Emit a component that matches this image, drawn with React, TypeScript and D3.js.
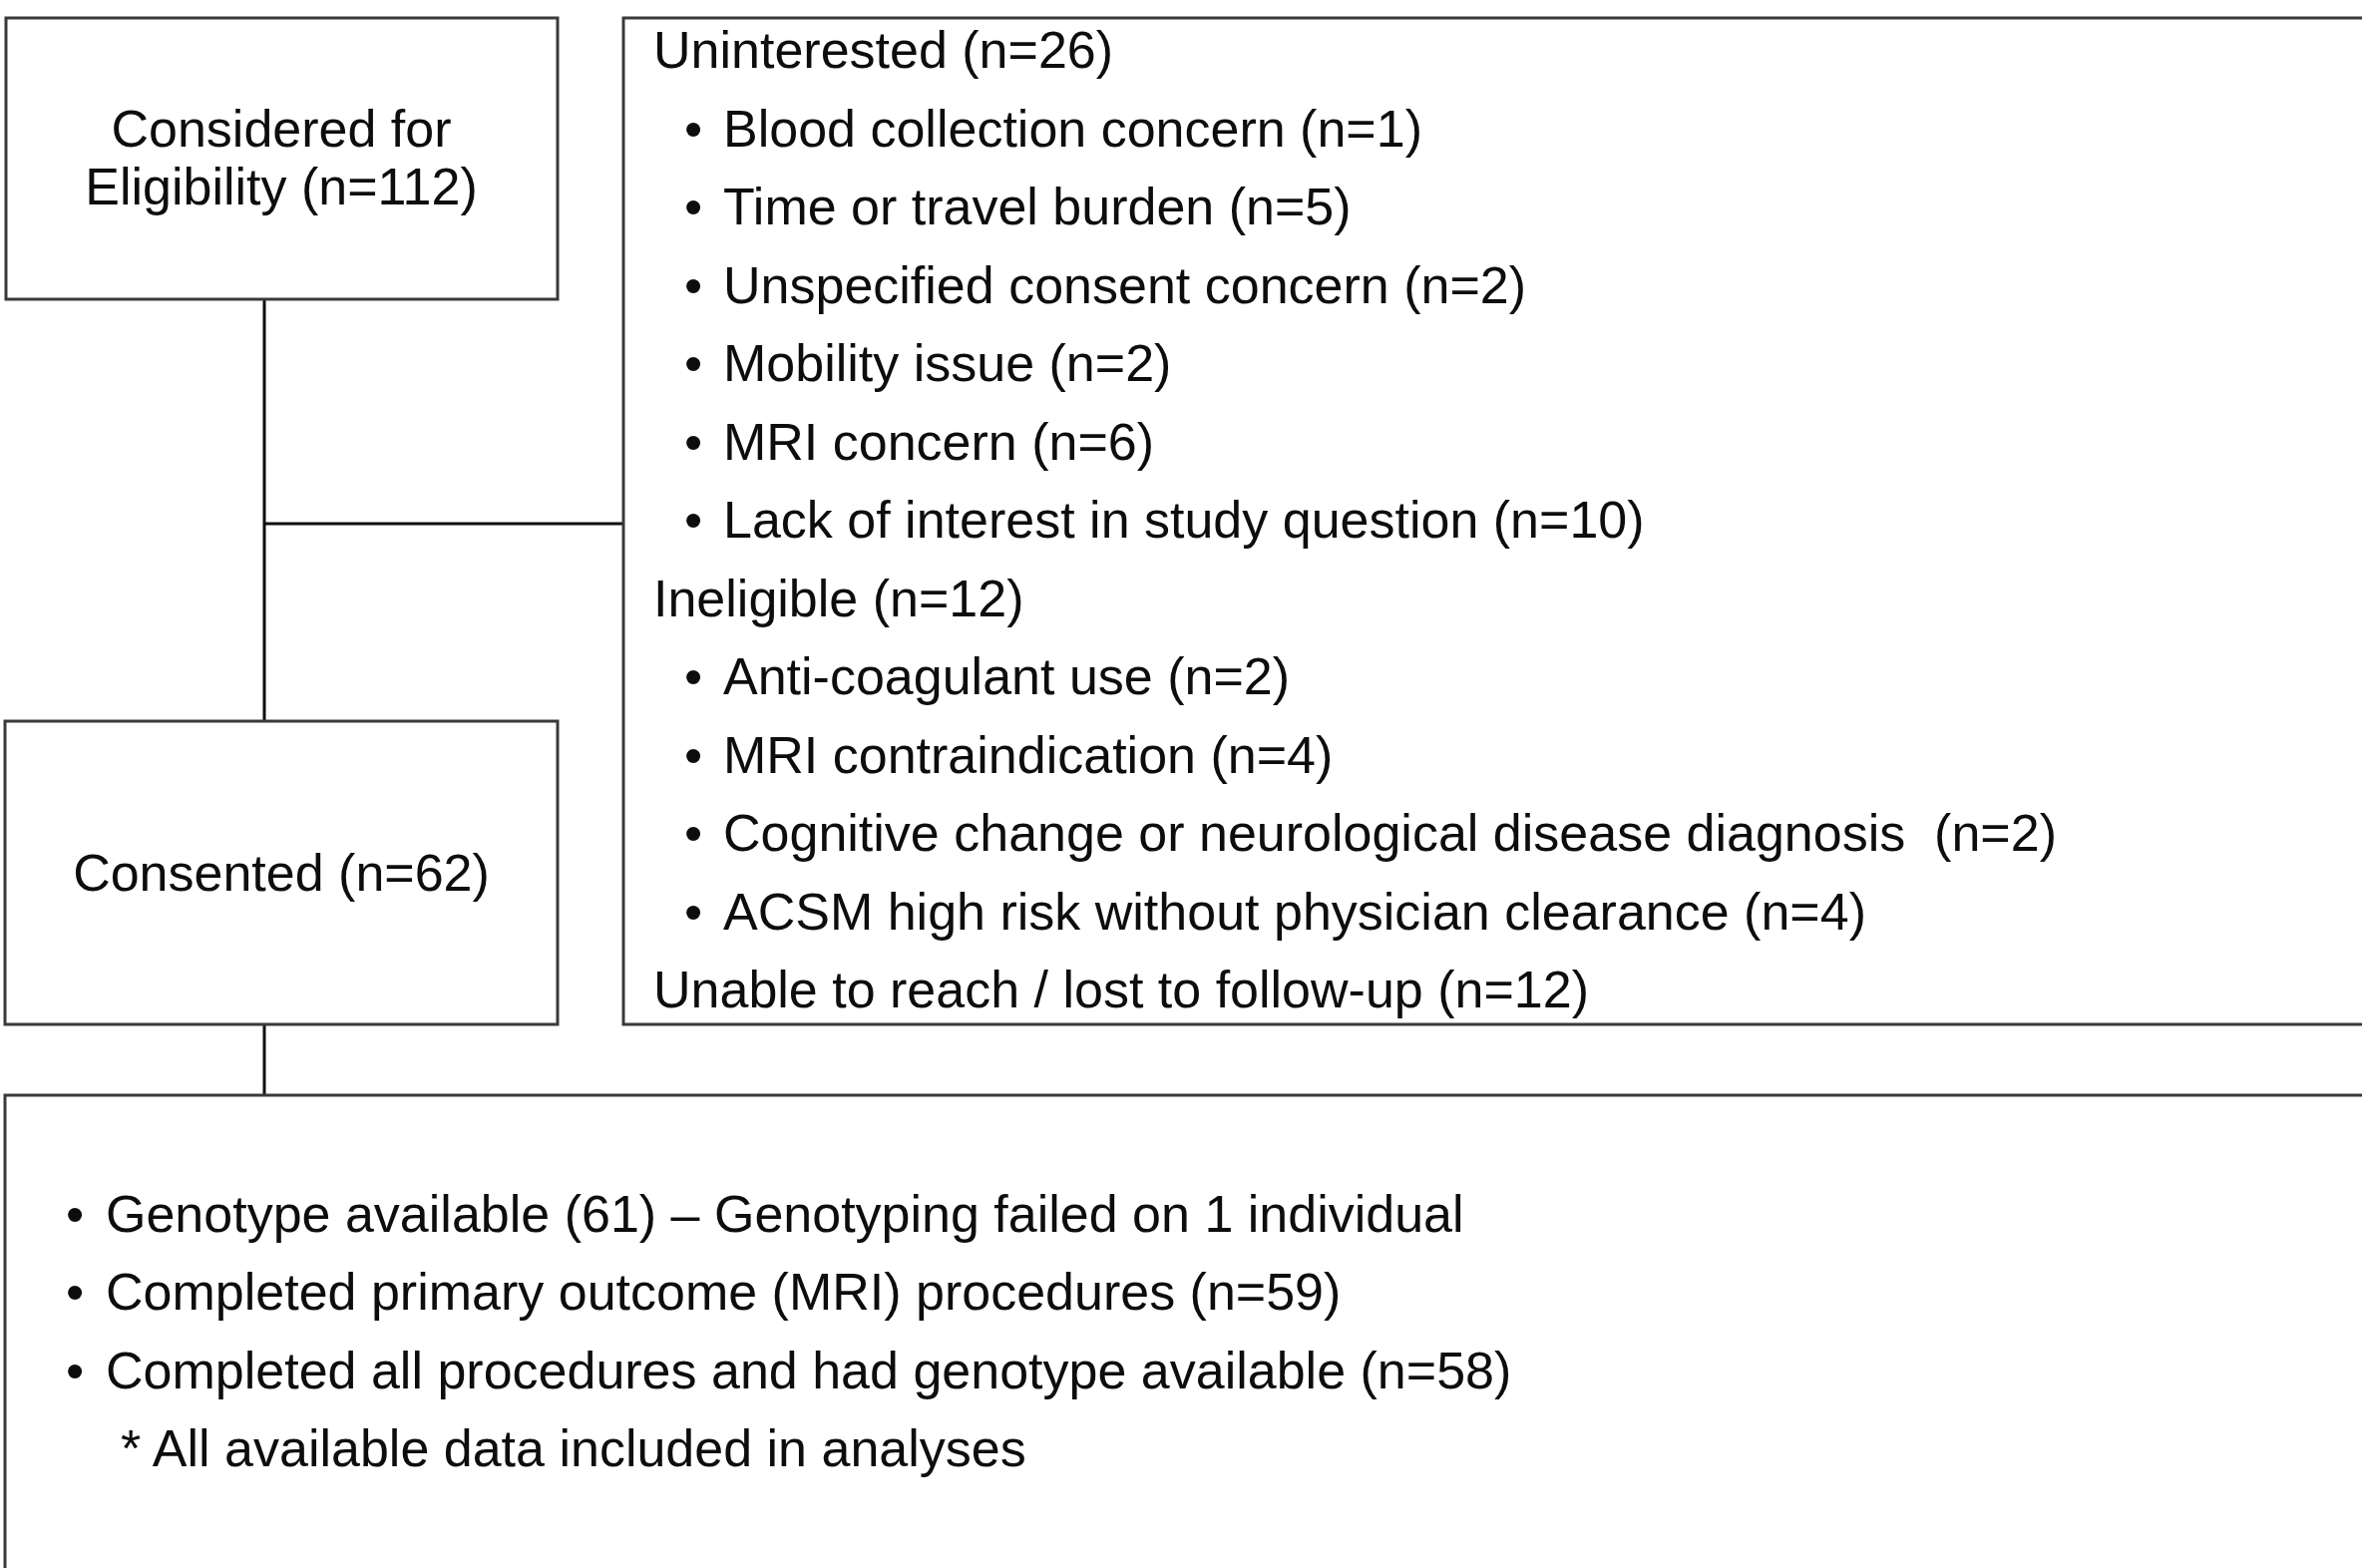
import React, { useEffect } from "react";
import * as d3 from "d3";

// flow stages
const stageLabels = [["Considered for", "Eligibility (n=112)"], ["Consented (n=62)"]];

// reasons for not enrolling, grouped
const groupTitles = ["Uninterested (n=26)", "Ineligible (n=12)", "Unable to reach / lost to follow-up (n=12)"];
const uninterestedReasons = [
  "Blood collection concern (n=1)",
  "Time or travel burden (n=5)",
  "Unspecified consent concern (n=2)",
  "Mobility issue (n=2)",
  "MRI concern (n=6)",
  "Lack of interest in study question (n=10)",
];
const ineligibleReasons = [
  "Anti-coagulant use (n=2)",
  "MRI contraindication (n=4)",
  "Cognitive change or neurological disease diagnosis\u00a0 (n=2)",
  "ACSM high risk without physician clearance (n=4)",
];

// final outcomes
const outcomeItems = [
  "Genotype available (61) \u2013 Genotyping failed on 1 individual",
  "Completed primary outcome (MRI) procedures (n=59)",
  "Completed all procedures and had genotype available (n=58)",
];
const outcomeNote = "* All available data included in analyses";

const W = 2368;
const H = 1572;
const FONT = "'Liberation Sans', Arial, Helvetica, sans-serif";
const FS = 52;
const BORDER = "#3a3a3a";
const INK = "#0d0d0d";

type Line = { text: string; bullet: boolean };

const App = () => {
  useEffect(() => {
    document.body.style.margin = "0";
  }, []);

  // right box lines
  const rightLines: Line[] = [
    { text: groupTitles[0], bullet: false },
    ...uninterestedReasons.map((t) => ({ text: t, bullet: true })),
    { text: groupTitles[1], bullet: false },
    ...ineligibleReasons.map((t) => ({ text: t, bullet: true })),
    { text: groupTitles[2], bullet: false },
  ];
  const yRight = d3.scaleLinear().domain([0, rightLines.length - 1]).range([68, 1010]);

  const bottomLines: Line[] = [
    ...outcomeItems.map((t) => ({ text: t, bullet: true })),
    { text: outcomeNote, bullet: false },
  ];
  const yBottom = d3.scaleLinear().domain([0, bottomLines.length - 1]).range([1235, 1470]);

  const trunkX = 265;
  const branchY = yRight(6) - 14;

  return (
    <svg width={W} height={H} style={{ display: "block", background: "#fff", whiteSpace: "pre" }} fontFamily={FONT}>
      {/* connectors */}
      <g stroke={INK} strokeWidth={3} fill="none">
        <line x1={trunkX} x2={trunkX} y1={300} y2={723} />
        <line x1={trunkX} x2={625} y1={branchY} y2={branchY} />
        <line x1={trunkX} x2={trunkX} y1={1027} y2={1098} />
      </g>

      {/* boxes */}
      <g stroke={BORDER} strokeWidth={3} fill="none">
        <rect x={6} y={18} width={553} height={282} />
        <rect x={5} y={723} width={554} height={304} />
        <rect x={625} y={18} width={W} height={1009} />
        <rect x={5} y={1098} width={W} height={H} />
      </g>

      {/* stage labels */}
      <g fill={INK} fontSize={FS} textAnchor="middle">
        {stageLabels[0].map((t, i) => (
          <text key={t} x={282} y={147 + i * 58}>{t}</text>
        ))}
        <text x={282} y={893}>{stageLabels[1][0]}</text>
      </g>

      {/* exclusions */}
      <g fill={INK} fontSize={FS}>
        {rightLines.map((d, i) => (
          <g key={i}>
            {d.bullet && <text x={686} y={yRight(i)}>{"\u2022"}</text>}
            <text x={d.bullet ? 725 : 655} y={yRight(i)}>{d.text}</text>
          </g>
        ))}
      </g>

      {/* outcomes */}
      <g fill={INK} fontSize={FS}>
        {bottomLines.map((d, i) => (
          <g key={i}>
            {d.bullet && <text x={66} y={yBottom(i)}>{"\u2022"}</text>}
            <text x={d.bullet ? 106 : 121} y={yBottom(i)}>{d.text}</text>
          </g>
        ))}
      </g>
    </svg>
  );
};

export default App;
